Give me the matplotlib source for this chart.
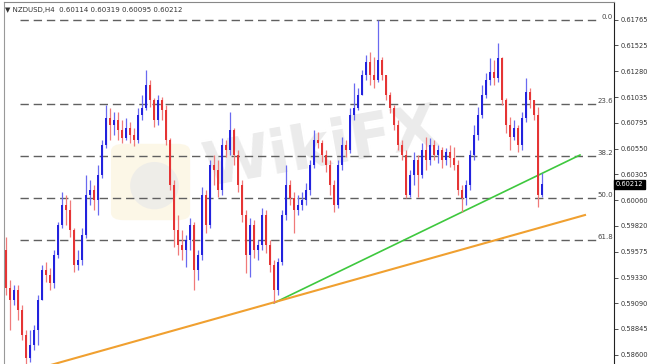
import numpy as np
import matplotlib
matplotlib.use("Agg")
import matplotlib.pyplot as plt
import matplotlib.transforms as mtransforms
from matplotlib.patches import FancyBboxPatch, Ellipse

# NZDUSD H4 candles (open of each bar = previous close)
first_open = 0.59592
closes = [
    0.59232, 0.59119, 0.59214, 0.59025, 0.58788, 0.58571, 0.58694, 0.58836, 0.59119, 0.59403,
    0.59355, 0.59280, 0.59544, 0.59828, 0.60017, 0.59970, 0.59781, 0.59450, 0.59497, 0.59733,
    0.60111, 0.60159, 0.60064, 0.60300, 0.60584, 0.60839, 0.60773, 0.60820, 0.60726, 0.60650,
    0.60744, 0.60678, 0.60631, 0.60867, 0.60933, 0.61151, 0.61009, 0.60820, 0.61009, 0.60915,
    0.60631, 0.60206, 0.59781, 0.59639, 0.59592, 0.59686, 0.59828, 0.59403, 0.59544, 0.60111,
    0.59828, 0.60395, 0.60348, 0.60159, 0.60584, 0.60537, 0.60726, 0.60489, 0.60206, 0.59922,
    0.59544, 0.59828, 0.59592, 0.59639, 0.59922, 0.59639, 0.59450, 0.59214, 0.59478, 0.59922,
    0.60206, 0.60083, 0.59970, 0.60017, 0.60064, 0.60159, 0.60395, 0.60631, 0.60603, 0.60489,
    0.60395, 0.60206, 0.60017, 0.60395, 0.60584, 0.60537, 0.60867, 0.60933, 0.61056, 0.61245,
    0.61368, 0.61245, 0.61198, 0.61387, 0.61245, 0.61056, 0.60933, 0.60773, 0.60584, 0.60489,
    0.60111, 0.60300, 0.60442, 0.60300, 0.60537, 0.60442, 0.60584, 0.60489, 0.60537, 0.60442,
    0.60518, 0.60461, 0.60395, 0.60159, 0.60083, 0.60206, 0.60489, 0.60678, 0.60867, 0.61056,
    0.61198, 0.61274, 0.61217, 0.61406, 0.61009, 0.60773, 0.60659, 0.60744, 0.60584, 0.60839,
    0.61085, 0.61009, 0.60867, 0.60114, 0.60212,
]
highs = [
    0.59714, 0.59308, 0.59261, 0.59261, 0.59072, 0.58836, 0.58836, 0.58883, 0.59166, 0.59450,
    0.59478, 0.59421, 0.59592, 0.59856, 0.60140, 0.60111, 0.60064, 0.59799, 0.59592, 0.59799,
    0.60300, 0.60253, 0.60206, 0.60395, 0.60631, 0.60962, 0.60933, 0.60896, 0.60896, 0.60820,
    0.60839, 0.60801, 0.60744, 0.60933, 0.61056, 0.61293, 0.61198, 0.61028, 0.61056, 0.61037,
    0.60962, 0.60650, 0.60253, 0.59922, 0.59781, 0.59733, 0.59894, 0.59856, 0.59592, 0.60187,
    0.60159, 0.60442, 0.60489, 0.60442, 0.60650, 0.60631, 0.60896, 0.60744, 0.60537, 0.60253,
    0.59970, 0.59894, 0.59875, 0.59686, 0.59988, 0.59970, 0.59686, 0.59497, 0.59516, 0.59970,
    0.60395, 0.60253, 0.60140, 0.60111, 0.60140, 0.60225, 0.60442, 0.60726, 0.60707, 0.60631,
    0.60537, 0.60442, 0.60253, 0.60442, 0.60659, 0.60631, 0.60933, 0.61170, 0.61122, 0.61293,
    0.61434, 0.61463, 0.61415, 0.61765, 0.61415, 0.61245, 0.61085, 0.60962, 0.60820, 0.60631,
    0.60537, 0.60348, 0.60518, 0.60489, 0.60603, 0.60659, 0.60650, 0.60631, 0.60584, 0.60565,
    0.60555, 0.60584, 0.60565, 0.60442, 0.60206, 0.60253, 0.60537, 0.60773, 0.60943, 0.61151,
    0.61264, 0.61406, 0.61387, 0.61548, 0.61415, 0.61028, 0.60848, 0.60820, 0.60773, 0.60896,
    0.61217, 0.61122, 0.61009, 0.60943, 0.60319,
]
lows = [
    0.59166, 0.58836, 0.59072, 0.58930, 0.58741, 0.58400, 0.58533, 0.58647, 0.58694, 0.59119,
    0.59289, 0.59214, 0.59232, 0.59516, 0.59799, 0.59828, 0.59714, 0.59384, 0.59403, 0.59450,
    0.59705, 0.60017, 0.59970, 0.59922, 0.60272, 0.60555, 0.60631, 0.60678, 0.60631, 0.60603,
    0.60631, 0.60603, 0.60574, 0.60603, 0.60820, 0.60915, 0.60943, 0.60754, 0.60773, 0.60820,
    0.60584, 0.60159, 0.59620, 0.59544, 0.59497, 0.59431, 0.59592, 0.59214, 0.59308, 0.59497,
    0.59752, 0.59799, 0.60206, 0.60092, 0.60111, 0.60470, 0.60489, 0.60395, 0.60140, 0.59856,
    0.59374, 0.59336, 0.59516, 0.59497, 0.59592, 0.59563, 0.59384, 0.59091, 0.59166, 0.59450,
    0.59875, 0.60017, 0.59752, 0.59922, 0.59970, 0.60017, 0.60111, 0.60366, 0.60555, 0.60423,
    0.60329, 0.60111, 0.59951, 0.59988, 0.60348, 0.60470, 0.60508, 0.60820, 0.60915, 0.61056,
    0.61198, 0.61151, 0.61122, 0.61179, 0.61198, 0.61009, 0.60886, 0.60726, 0.60537, 0.60442,
    0.60083, 0.60092, 0.60206, 0.60092, 0.60272, 0.60348, 0.60395, 0.60442, 0.60414, 0.60366,
    0.60395, 0.60376, 0.60348, 0.60111, 0.59951, 0.60017, 0.60159, 0.60442, 0.60631, 0.60839,
    0.61028, 0.61151, 0.61151, 0.61179, 0.60962, 0.60697, 0.60537, 0.60631, 0.60518, 0.60537,
    0.60801, 0.60933, 0.60820, 0.59998, 0.60095,
]

# fibonacci retracement
fib_high = 0.61765
fib_low = 0.58400
fib_ratios = [0.0, 23.6, 38.2, 50.0, 61.8]

# trend lines: (bar index, price)
green_line = [(67, 0.59091), (143.5, 0.60489)]
orange_line = [(5, 0.58439), (144.75, 0.59922)]

price_ticks = [0.61765, 0.61525, 0.61280, 0.61035, 0.60795, 0.60550, 0.60305,
               0.60060, 0.59820, 0.59575, 0.59330, 0.59090, 0.58845, 0.58600]
last_price = 0.60212
header = "\u25bc NZDUSD,H4  0.60114 0.60319 0.60095 0.60212"

closes = np.array(closes)
opens = np.concatenate([[first_open], closes[:-1]])
highs = np.maximum(np.array(highs), np.maximum(opens, closes))
lows = np.minimum(np.array(lows), np.minimum(opens, closes))
idx = np.arange(len(closes))

fig = plt.figure(figsize=(6.49, 3.64), dpi=100)
ax = fig.add_axes([4 / 649, 0, 610 / 649, 362 / 364])
ax.set_xlim(-0.5, 152)
ax.set_ylim(0.58514, 0.61935)

# watermark
logo = FancyBboxPatch((0.176, 0.40), 0.112, 0.20, boxstyle="round,pad=0.005,rounding_size=0.02",
                      transform=fig.transFigure, fc="#fcf4de", ec="none", alpha=0.7, zorder=0)
ax.add_patch(logo)
ax.add_patch(Ellipse((0.238, 0.49), 0.075, 0.13, transform=fig.transFigure,
                     fc="#e9e9e9", ec="none", alpha=0.7, zorder=0.1))
ax.text(0.495, 0.59, "WikiFX", transform=fig.transFigure, fontsize=44, fontweight="bold",
        color="#ebebeb", rotation=10, ha="center", va="center", zorder=0.2)

# fib levels
for r in fib_ratios:
    lvl = fib_high - r / 100 * (fib_high - fib_low)
    ax.hlines(lvl, 3.5, 147.5, colors="#606060", lw=1.0, linestyles=(0, (6, 3.5)), zorder=1)
    ax.text(151.7, lvl, f"{r:.1f}", fontsize=5, color="#444444", ha="right", va="bottom", zorder=3)

# trend lines
ax.plot([p[0] for p in green_line], [p[1] for p in green_line], color="#3ec83e", lw=1.2, zorder=2)
ax.plot([p[0] for p in orange_line], [p[1] for p in orange_line], color="#f0a030", lw=1.5, zorder=2)

# candles
up = closes >= opens
cols = np.where(up, "#2222dd", "#e53434")
wick_cols = np.where(up, "#6a6af0", "#f07a7a")
ax.vlines(idx, lows, highs, colors=wick_cols, lw=0.9, zorder=4)
body_lo = np.minimum(opens, closes)
body_h = np.maximum(np.abs(closes - opens), 0.00008)
ax.bar(idx, body_h, bottom=body_lo, width=0.62, color=cols, zorder=5, linewidth=0)

# axes styling
ax.yaxis.tick_right()
ax.set_yticks(price_ticks)
ax.set_yticklabels([f"{v:.5f}" for v in price_ticks])
ax.tick_params(axis="y", length=3, width=0.6, labelsize=4.8, pad=1.5, colors="#333333")
ax.set_xticks([])
ax.spines["bottom"].set_visible(False)
ax.spines["left"].set_color("#999999")
ax.spines["top"].set_color("#888888")
ax.spines["right"].set_color("#222222")
ax.spines["right"].set_linewidth(0.8)

trans = mtransforms.blended_transform_factory(ax.transAxes, ax.transData)
ax.text(1.003, last_price, f"{last_price:.5f}", transform=trans, fontsize=4.8, color="white",
        ha="left", va="center", clip_on=False, zorder=10,
        bbox=dict(fc="black", ec="black", pad=1.0))

ax.text(0.002, 0.985, header, transform=ax.transAxes, fontsize=5, color="#333333",
        ha="left", va="top", zorder=10)

fig.savefig("out.png", dpi=100)
